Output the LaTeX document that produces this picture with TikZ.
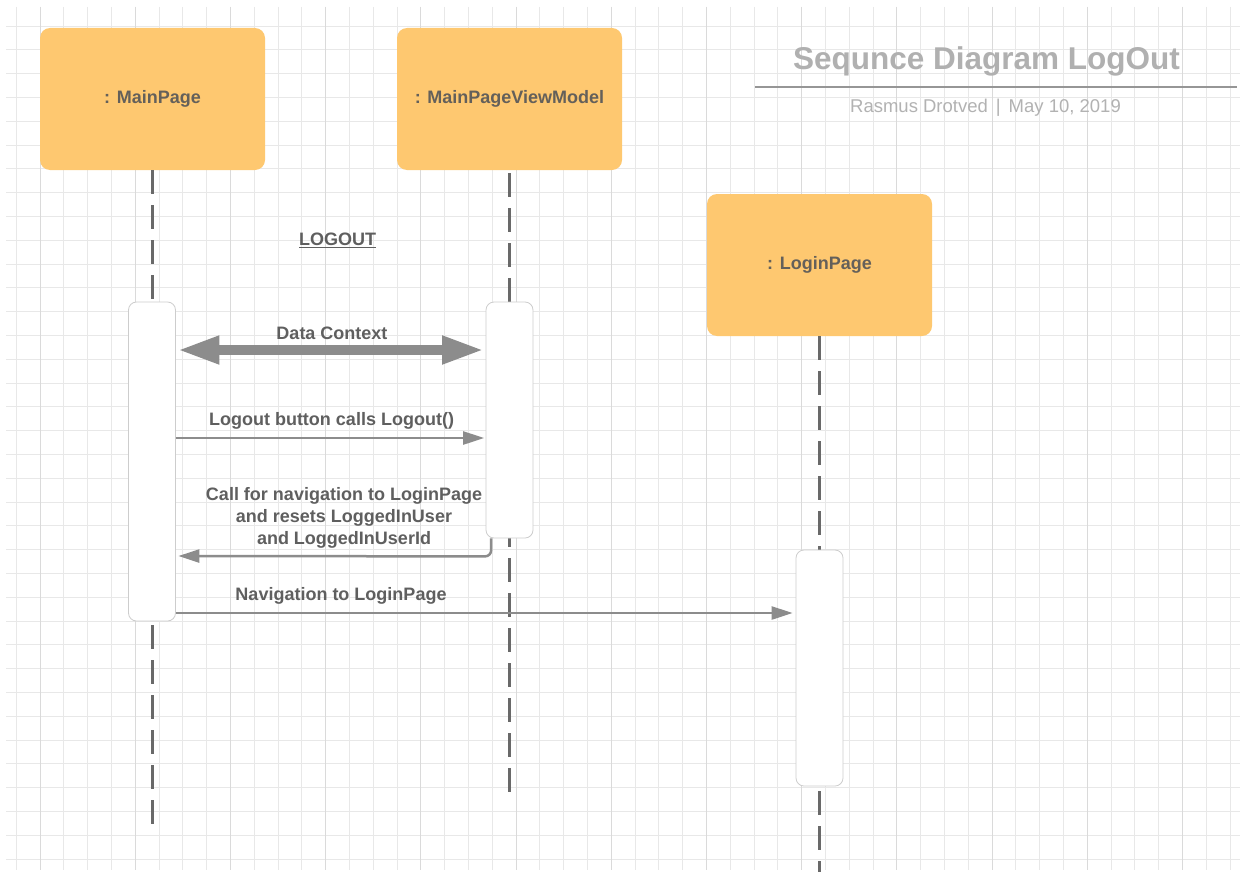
\documentclass[tikz,border=0pt]{standalone}
\usepackage{fontspec}
\setmainfont{Liberation Sans}
\usetikzlibrary{arrows.meta,calc}

\definecolor{boxfill}{RGB}{254,200,112}
\definecolor{boxtext}{RGB}{100,96,90}
\definecolor{msg}{RGB}{140,140,140}
\definecolor{labeltext}{RGB}{95,95,95}
\definecolor{gridminor}{RGB}{232,232,232}
\definecolor{gridmajor}{RGB}{218,218,218}
\definecolor{lifecol}{RGB}{105,105,105}
\definecolor{actborder}{RGB}{205,205,205}
\definecolor{titlegray}{RGB}{176,176,176}
\definecolor{subgray}{RGB}{178,178,178}
\definecolor{rulegray}{RGB}{150,150,150}

\begin{document}
\begin{tikzpicture}[x=1pt,y=-1pt,
  object/.style={fill=boxfill, rounded corners=10pt, minimum width=225pt,
    minimum height=142pt, inner sep=0pt,
    font=\fontsize{18}{20}\selectfont\bfseries, text=boxtext},
  activation/.style={draw=actborder, line width=0.8pt, fill=white,
    rounded corners=8pt, minimum width=47pt, inner sep=0pt},
  lifeline/.style={draw=lifecol, line width=2.4pt, dash pattern=on 24pt off 11pt},
  message/.style={draw=msg, line width=2.5pt, -{Triangle[length=21pt,width=13pt]}},
  msglabel/.style={font=\fontsize{18}{22}\selectfont\bfseries, text=labeltext,
    inner sep=0pt, align=center},
]
\useasboundingbox (0,0) rectangle (1246,875);
\fill[white] (0,0) rectangle (1246,875);

% background grid
\foreach \i in {0,...,51} {
  \pgfmathsetmacro{\gx}{16.2+23.8*\i}
  \draw[gridminor, line width=0.8pt] (\gx,7) -- (\gx,870);
}
\foreach \i in {0,...,35} {
  \pgfmathsetmacro{\gy}{26+23.8*\i}
  \draw[gridminor, line width=0.8pt] (6,\gy) -- (1240,\gy);
}
\foreach \i in {0,...,12} {
  \pgfmathsetmacro{\gx}{40+95.2*\i}
  \draw[gridmajor, line width=0.9pt] (\gx,7) -- (\gx,870);
}

% title block
\node[font=\fontsize{31.5}{34}\selectfont\bfseries, text=titlegray] (title)
  at (986.5,61) {Sequnce Diagram LogOut};
\coordinate (ruleL) at (755,87);
\coordinate (ruleR) at (1237,87);
\draw[rulegray, line width=1.1pt] (ruleL) -- (ruleR);
\node[font=\fontsize{18.5}{22}\selectfont, text=subgray] (author)
  at (985.5,108) {Rasmus Drotved\hspace{8pt}|\hspace{8pt}May 10, 2019};

% participants
\node[object] (mp) at (152.5,99) {: MainPage};
\node[object] (vm) at (509.5,99) {: MainPageViewModel};
\node[object] (lp) at (819.5,265) {: LoginPage};

% lifelines
\coordinate (mpEnd) at (152.5,824);
\coordinate (vmEnd) at (509.5,802);
\coordinate (lpEnd) at (819.5,872);
\draw[lifeline] (mp.south) -- (mpEnd);
\draw[lifeline, dash phase=-3pt] (vm.south) -- (vmEnd);
\draw[lifeline] (lp.south) -- (lpEnd);

% activation bars
\node[activation, minimum height=319pt] (mpAct) at (152,461.5) {};
\node[activation, minimum height=236pt] (vmAct) at (509.5,420) {};
\node[activation, minimum height=236pt] (lpAct) at (819.5,668) {};

% section heading
\node[msglabel] (logout) at (337.5,240) {\underline{LOGOUT}};

% data context binding
\draw[draw=msg, line width=10pt,
  {Triangle[length=42pt,width=26pt]}-{Triangle[length=42pt,width=26pt]},
  shorten <=1.5pt, shorten >=1.5pt]
  (mpAct.east |- 0,350) -- (vmAct.west |- 0,350);
\node[msglabel] (dcLabel) at (332,333) {Data Context};

% logout call
\draw[message, shorten >=1.5pt] (mpAct.east |- 0,438) -- (vmAct.west |- 0,438);
\node[msglabel] (lgLabel) at (331.5,421) {Logout button calls Logout()};

% navigation request back to the page
\draw[message, rounded corners=6pt, shorten >=2.5pt]
  ($(vmAct.south west)+(5.5,0)$) -- ++(0,18) -- (mpAct.east |- 0,556);
\node[msglabel] (navLabel) at (344,518)
  {Call for navigation to LoginPage\\and resets LoggedInUser\\and LoggedInUserId};

% navigation to login page
\draw[message, shorten >=3pt] (mpAct.east |- 0,613) -- (lpAct.west |- 0,613);
\node[msglabel] (goLabel) at (341,596) {Navigation to LoginPage};
\end{tikzpicture}
\end{document}
